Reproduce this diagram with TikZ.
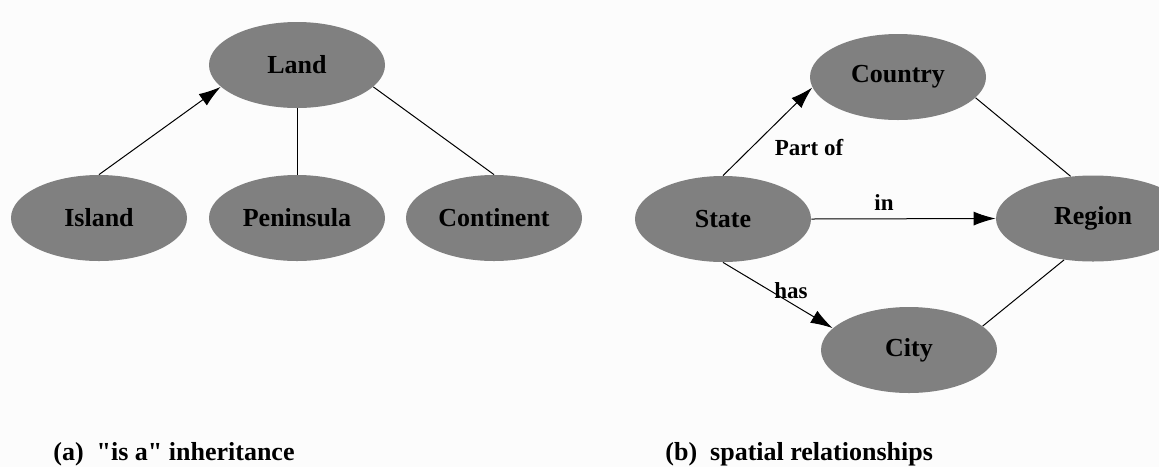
\documentclass[tikz,border=0pt]{standalone}
\usepackage{fontspec}
\setmainfont{Liberation Serif}
\usetikzlibrary{shapes.geometric,arrows.meta}
\definecolor{blobgray}{HTML}{808080}
\definecolor{paper}{HTML}{FCFCFC}
\tikzset{
  concept/.style={ellipse, fill=blobgray, minimum width=88pt, minimum height=43pt, inner sep=0pt,
    font=\bfseries\fontsize{13}{15}\selectfont},
  rel/.style={inner sep=0pt, font=\bfseries\fontsize{11.5}{13}\selectfont},
  subcap/.style={anchor=base west, inner sep=0pt, font=\bfseries\fontsize{13}{15}\selectfont},
  link/.style={line width=0.5pt},
  isa/.style={link, -{Latex[length=11pt,width=7pt]}},
}
\begin{document}
\begin{tikzpicture}[x=0.5pt, y=-0.5pt]
    \fill[paper] (0,0) rectangle (1159,467);
    \useasboundingbox (0,0) rectangle (1159,467);

    % (a) "is a" inheritance
    \node[concept] (land) at (297,65) {Land};
    \node[concept] (island) at (99,218) {Island};
    \node[concept] (peninsula) at (297,218) {Peninsula};
    \node[concept] (continent) at (494,218) {Continent};

    \draw[isa] (island.north) -- (land.196);
    \draw[link] (land.south) -- (peninsula.north);
    \draw[link] (land.-16) -- (continent.north);

    % (b) spatial relationships
    \node[concept] (country) at (898,77) {Country};
    \node[concept] (state) at (723,219) {State};
    \node[concept, minimum width=97pt] (region) at (1093,218.5) {Region};
    \node[concept] (city) at (909,350) {City};

    \draw[isa] (state.north) -- (country.187);
    \draw[isa] (state.east) -- (region.west);
    \draw[isa] (state.south) -- (city.164);
    \draw[link] (country.-15) -- (region.118);
    \draw[link] (region.235) -- (city.18);

    \node[rel] (partof) at (809,148) {Part of};
    \node[rel] (in) at (884,203) {in};
    \node[rel] (has) at (791,291) {has};

    \node[subcap] (capa) at (53,460) {(a)~~\textquotedbl is a\textquotedbl{} inheritance};
    \node[subcap] (capb) at (665,460) {(b)~~spatial relationships};
\end{tikzpicture}
\end{document}
